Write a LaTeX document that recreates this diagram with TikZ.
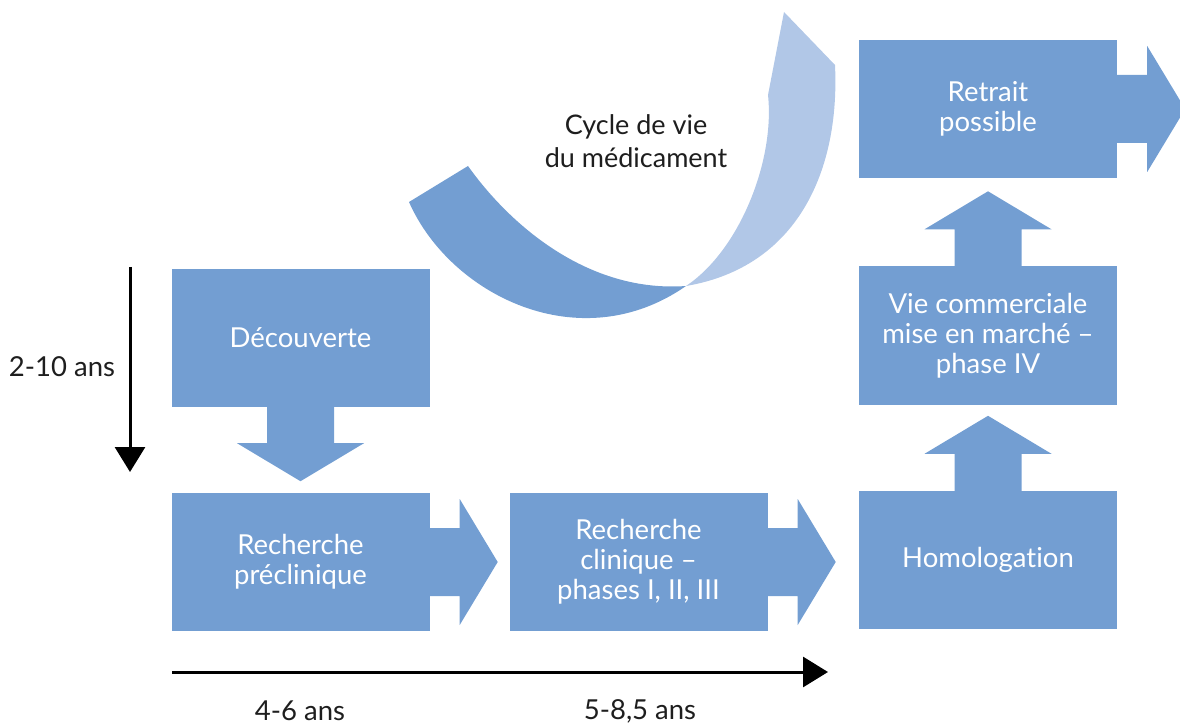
\documentclass[tikz,border=0pt]{standalone}
\usepackage{fontspec}
\setmainfont{Lato}[Ligatures=NoCommon]
\usetikzlibrary{arrows.meta}
\definecolor{boxblue}{HTML}{739ED2}
\definecolor{ribbonlight}{HTML}{B1C7E7}
\definecolor{inkgray}{HTML}{1E1E1E}
\tikzset{
  stage/.style={rectangle, fill=boxblue, minimum width=258pt, minimum height=138pt,
    inner sep=0pt, text=white, align=center, font=\fontsize{27.5}{30}\selectfont},
  span/.style={text=inkgray, font=\fontsize{27.5}{30}\selectfont, inner sep=0pt},
  timeline/.style={line width=3pt, draw=black, -{Triangle[length=25pt,width=30pt]}},
  % block arrows, drawn from the anchor they are placed at
  arrowright/.pic={\fill[boxblue] (0,-34) -- (30,-34) -- (30,-63) -- (68,0)
     -- (30,63) -- (30,34) -- (0,34) -- cycle;},
  arrowdown/.pic={\fill[boxblue] (-33.5,0) -- (-33.5,36) -- (-63.5,36) -- (0,74)
     -- (63.5,36) -- (33.5,36) -- (33.5,0) -- cycle;},
  arrowup/.pic={\fill[boxblue] (-33.5,0) -- (-33.5,-37) -- (-63.5,-37) -- (0,-75)
     -- (63.5,-37) -- (33.5,-37) -- (33.5,0) -- cycle;},
}
\begin{document}
\begin{tikzpicture}[x=1pt, y=-1pt]
\useasboundingbox (0,0) rectangle (1180,727);

% twisted ribbon: dark front face, then light back face
\fill[boxblue] (468,166) .. controls (510,225) and (588,293) .. (686,286)
  .. controls (580,360) and (450,295) .. (409,202) -- cycle;
\fill[ribbonlight] (784,12) -- (835,65)
  .. controls (840,170) and (798,267) .. (686,286)
  .. controls (740,250) and (775,160) .. (768,95) -- cycle;
\node[span, align=center, font=\fontsize{27}{33}\selectfont] (cycle) at (636,141)
  {Cycle de vie\\du médicament};

% stages
\node[stage] (dec)  at (300.5,338) {Découverte};
\node[stage] (prec) at (300.5,562) {Recherche\\préclinique};
\node[stage] (clin) at (638.5,562) {Recherche\\clinique –\\phases I, II, III};
\node[stage] (homo) at (988,560)   {Homologation};
\node[stage] (vie)  at (988,335.5) {Vie commerciale\\mise en marché –\\phase IV};
\node[stage] (retr) at (988,109)   {Retrait\\possible};

% block arrows between stages
\pic at (dec.south)  {arrowdown};
\pic at (prec.east)  {arrowright};
\pic at (clin.east)  {arrowright};
\pic at (homo.north) {arrowup};
\pic at (vie.north)  {arrowup};
\pic at (retr.east)  {arrowright};

% durations
\coordinate (v0) at (130,267);
\coordinate (v1) at (130,472);
\draw[timeline] (v0) -- (v1);
\coordinate (h0) at (172,672);
\coordinate (h1) at (828,672);
\draw[timeline] (h0) -- (h1);
\node[span] (d1) at (62,367)  {2-10 ans};
\node[span] (d2) at (300,711) {4-6 ans};
\node[span] (d3) at (640,711) {5-8,5 ans};
\end{tikzpicture}
\end{document}
